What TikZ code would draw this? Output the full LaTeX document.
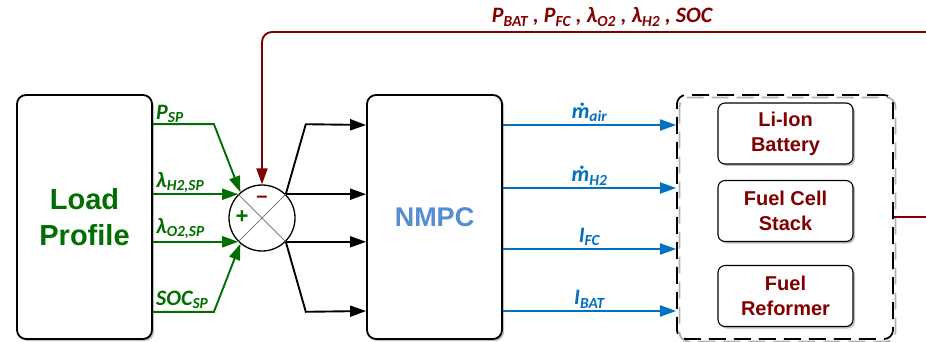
\documentclass[tikz,border=0pt]{standalone}
\usepackage{fontspec}
\setmainfont{Liberation Sans}
\newfontfamily\sigfont{Carlito}
\usetikzlibrary{positioning,arrows.meta,shadows}

\definecolor{loadgreen}{RGB}{0,110,0}
\definecolor{fbred}{RGB}{128,0,0}
\definecolor{ctrlblue}{RGB}{0,112,192}
\definecolor{nmpcblue}{RGB}{84,141,212}

\begin{document}
\begin{tikzpicture}[x=1pt, y=-1pt,
    shade/.style={drop shadow={shadow xshift=2pt, shadow yshift=-2pt, fill=black!50, opacity=0.5}},
    block/.style={draw, line width=1.8pt, rounded corners=9pt, fill=white, shade,
      minimum width=135pt, minimum height=244pt, align=center, font=\bfseries},
    unit/.style={draw, line width=1.1pt, rounded corners=7pt, fill=white, shade,
      minimum width=135pt, minimum height=61pt, align=center, text=fbred,
      font=\bfseries\fontsize{20}{25}\selectfont},
    sig/.style={font=\sigfont\bfseries\itshape\fontsize{22}{24}\selectfont, inner sep=1pt},
    tip/.style={-{Triangle[length=16pt, width=11pt]}},
    setp/.style={loadgreen, line width=1.9pt, tip},
    ctrl/.style={ctrlblue, line width=1.9pt, tip},
    fan/.style={black, line width=1.9pt, tip}
  ]
    \useasboundingbox (0,0) rectangle (926,341);

    % blocks
    \node[block, text=loadgreen, font=\bfseries\fontsize{29}{36}\selectfont] (load) at (84.5,217) {Load\\Profile};
    \node[block, text=nmpcblue, font=\bfseries\fontsize{27}{30}\selectfont] (nmpc) at (434.5,217) {NMPC};
    \draw[black!30, line width=1.8pt, dash pattern=on 17pt off 8pt, rounded corners=9pt]
      (679.5,97.5) rectangle (895.5,341.5);
    \node[draw, line width=1.8pt, dash pattern=on 17pt off 8pt, rounded corners=9pt,
      minimum width=216pt, minimum height=244pt] (plant) at (785,217) {};
    \node[unit] (bat) at (785.5,133.5) {Li-Ion\\Battery};
    \node[unit] (fc) at (785.5,211) {Fuel Cell\\Stack};
    \node[unit] (ref) at (785.5,296) {Fuel\\Reformer};

    % summing junction
    \node[draw, circle, line width=1.3pt, minimum size=66pt, inner sep=0pt] (sum) at (262,218) {};
    \draw[gray, line width=0.9pt] (sum.north west) -- (sum.south east);
    \draw[gray, line width=0.9pt] (sum.south west) -- (sum.north east);
    \node[text=fbred, font=\bfseries\fontsize{20}{20}\selectfont] (minus) at (262,199) {--};
    \node[text=loadgreen, font=\bfseries\fontsize{22}{22}\selectfont] (plus) at (242,217) {+};

    % set points
    \draw[setp] (load.north east) ++(0,30) -- ++(61,0) -- (sum.130);
    \draw[setp] (sum.135 -| load.east) -- (sum.135);
    \draw[setp] (sum.225 -| load.east) -- (sum.225);
    \draw[setp] (load.south east) ++(0,-28) -- ++(61,0) -- (sum.230);
    \node[sig, text=loadgreen, anchor=south west] (psp) at (155,124) {P\textsubscript{SP}};
    \node[sig, text=loadgreen, anchor=south west] (lh2) at (155,194) {λ\textsubscript{H2,SP}};
    \node[sig, text=loadgreen, anchor=south west] (lo2) at (155,240) {λ\textsubscript{O2,SP}};
    \node[sig, text=loadgreen, anchor=south west] (socsp) at (155,310) {SOC\textsubscript{SP}};

    % error to NMPC
    \draw[fan] (sum.45) -- ++(20,-70) -- (nmpc.west |- 0,125);
    \draw[fan] (sum.45) -- (sum.45 -| nmpc.west);
    \draw[fan] (sum.-45) -- (sum.-45 -| nmpc.west);
    \draw[fan] (sum.-45) -- ++(20,70) -- (nmpc.west |- 0,311);

    % manipulated inputs
    \foreach \yy/\lbl in {125/{ṁ\textsubscript{air}}, 188/{ṁ\textsubscript{H2}},
                          249/{I\textsubscript{FC}}, 311/{I\textsubscript{BAT}}}
      \draw[ctrl] (nmpc.east |- 0,\yy) -- node[sig, text=ctrlblue, above=1pt] {\lbl} (plant.west |- 0,\yy);

    % measured outputs back to the junction
    \draw[fbred, line width=1.9pt, rounded corners=10pt, tip]
      (plant.east) -- ++(42,0) |- (sum.north |- 0,32) -- (sum.north);
    \node[sig, text=fbred] (meas) at (602,17)
      {P\textsubscript{BAT} , P\textsubscript{FC} , λ\textsubscript{O2} , λ\textsubscript{H2} , SOC};
\end{tikzpicture}
\end{document}
